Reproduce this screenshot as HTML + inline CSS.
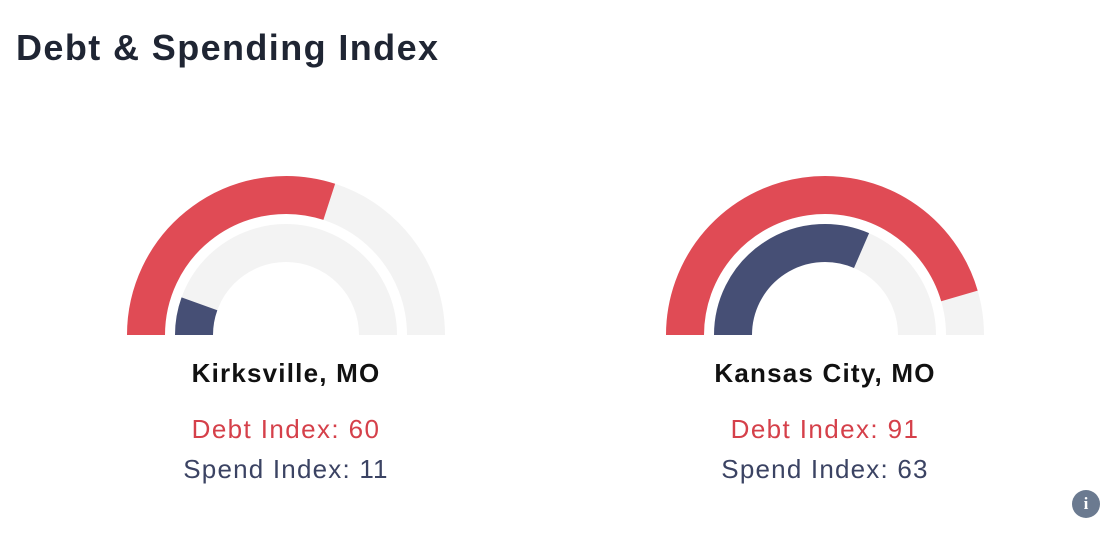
<!DOCTYPE html>
<html><head><meta charset="utf-8"><style>
body{margin:0;width:1110px;height:536px;background:#fff;font-family:"Liberation Sans",sans-serif;overflow:hidden;position:relative}
h1{position:absolute;left:16px;top:24px;margin:0;font-size:36px;font-weight:bold;color:#1f2533;line-height:48px;letter-spacing:1.4px}
svg{position:absolute;left:0;top:0}
</style></head><body>
<h1>Debt &amp; Spending Index</h1>
<svg id="s" width="1110" height="536"></svg>
<div style="position:absolute;left:1072px;top:490px;width:28px;height:28px;border-radius:50%;background:#6b7a90;color:#fff;font:bold 17px 'Liberation Serif',serif;text-align:center;line-height:28px">i</div>
<script>
const cities=["Kirksville, MO","Kansas City, MO"];
const debt=[60,91];
const spend=[11,63];
const centers=[286,825];
const NS="http://www.w3.org/2000/svg",s=document.getElementById('s');
const cy=335;
function arc(cx,r,frac){const a=Math.PI*(1-frac);const x=cx+r*Math.cos(a),y=cy-r*Math.sin(a);return `M${cx-r},${cy} A${r},${r} 0 0 1 ${x.toFixed(2)},${y.toFixed(2)}`;}
function path(d,c,name){const p=document.createElementNS(NS,'path');p.setAttribute('d',d);p.setAttribute('fill','none');p.setAttribute('stroke',c);p.setAttribute('stroke-width',38);


s.appendChild(p);}
function txt(x,y,t,c,w,ls,name){const e=document.createElementNS(NS,'text');e.setAttribute('x',x);e.setAttribute('y',y);e.setAttribute('text-anchor','middle');e.setAttribute('font-size',26);e.setAttribute('font-weight',w);e.setAttribute('fill',c);e.setAttribute('letter-spacing',ls);e.textContent=t;


s.appendChild(e);}
cities.forEach((c,i)=>{const cx=centers[i];
path(arc(cx,140,1),'#f3f3f3','debt-track');
path(arc(cx,92,1),'#f3f3f3','spend-track');
path(arc(cx,140,debt[i]/100),'#e04b55','debt-arc');
path(arc(cx,92,spend[i]/100),'#464f75','spend-arc');
txt(cx,382,c,'#111','bold',1.2,'city-label');
txt(cx,438,'Debt Index: '+debt[i],'#d5404a','normal',1.4,'debt-label');
txt(cx,478,'Spend Index: '+spend[i],'#3b4363','normal',1.2,'spend-label');
});
</script>
</body></html>
